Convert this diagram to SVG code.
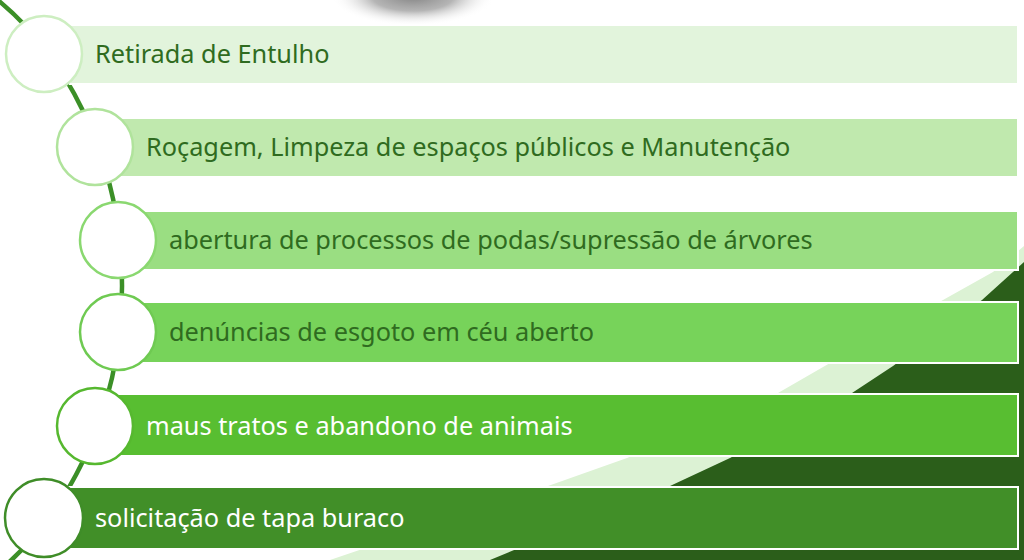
<svg xmlns="http://www.w3.org/2000/svg" width="1024" height="560" viewBox="0 0 1024 560">
  <defs>
    <radialGradient id="shadow" cx="0.5" cy="0.5" r="0.5">
      <stop offset="0" stop-color="#7c7c7c" stop-opacity="0.95"/>
      <stop offset="0.5" stop-color="#9c9c9c" stop-opacity="0.75"/>
      <stop offset="1" stop-color="#ffffff" stop-opacity="0"/>
    </radialGradient>
  </defs>
  <style>
    .bar { stroke: #ffffff; stroke-width: 2; }
    .circ { fill: #ffffff; stroke-width: 2.5; }
    .lbl { font-family: "Noto Sans", "Open Sans", sans-serif; font-size: 25.3px; }
    .dk { fill: #2f6b20; }
    .wt { fill: #ffffff; }
  </style>
  <rect width="1024" height="560" fill="#ffffff"/>
  <!-- background decoration -->
  <ellipse cx="413" cy="-4" rx="82" ry="30" fill="url(#shadow)"/>
  <path d="M1024,246 L993,272 L943,300 L830,363 L778,393 L627,458 L548,486 L330,560 L1024,560 Z" fill="#dcf2d4"/>
  <path d="M1024,262 L1013,272 L982,300 L893,366 L852,393 L730,458 L670,486 L490,560 L1024,560 Z" fill="#2b5e1a"/>

  <g id="connectors">
    <path d="M-8.5,-5 A282 345 0 0 1 -8.5,577" fill="none" stroke="#3b8f27" stroke-width="4.5"/>
  </g>

  <g id="node1">
    <rect class="bar" x="70" y="25" width="948" height="59" fill="#e2f4dc"/>
    <circle class="circ" cx="44" cy="54" r="38" stroke="#cdeec1"/>
    <text class="lbl dk" x="95" y="63">Retirada de Entulho</text>
  </g>
  <g id="node2">
    <rect class="bar" x="95" y="118" width="923" height="59" fill="#c0e9ae"/>
    <circle class="circ" cx="95" cy="147" r="38" stroke="#b0e39c"/>
    <text class="lbl dk" x="146" y="156">Roçagem, Limpeza de espaços públicos e Manutenção</text>
  </g>
  <g id="node3">
    <rect class="bar" x="118" y="211" width="900" height="59" fill="#9ade82"/>
    <circle class="circ" cx="118" cy="240" r="38" stroke="#8ad870"/>
    <text class="lbl dk" x="169" y="249">abertura de processos de podas/supressão de árvores</text>
  </g>
  <g id="node4">
    <rect class="bar" x="118" y="302" width="900" height="61" fill="#77d35a"/>
    <circle class="circ" cx="118" cy="332" r="38" stroke="#6fca52"/>
    <text class="lbl dk" x="169" y="341">denúncias de esgoto em céu aberto</text>
  </g>
  <g id="node5">
    <rect class="bar" x="95" y="394" width="923" height="62" fill="#58be31"/>
    <circle class="circ" cx="95" cy="426" r="38" stroke="#56b82f"/>
    <text class="lbl wt" x="146" y="435">maus tratos e abandono de animais</text>
  </g>
  <g id="node6">
    <rect class="bar" x="44" y="487" width="974" height="62" fill="#418f28"/>
    <circle class="circ" cx="44" cy="518" r="39" stroke="#3f8d28"/>
    <text class="lbl wt" x="95" y="527">solicitação de tapa buraco</text>
  </g>
</svg>
